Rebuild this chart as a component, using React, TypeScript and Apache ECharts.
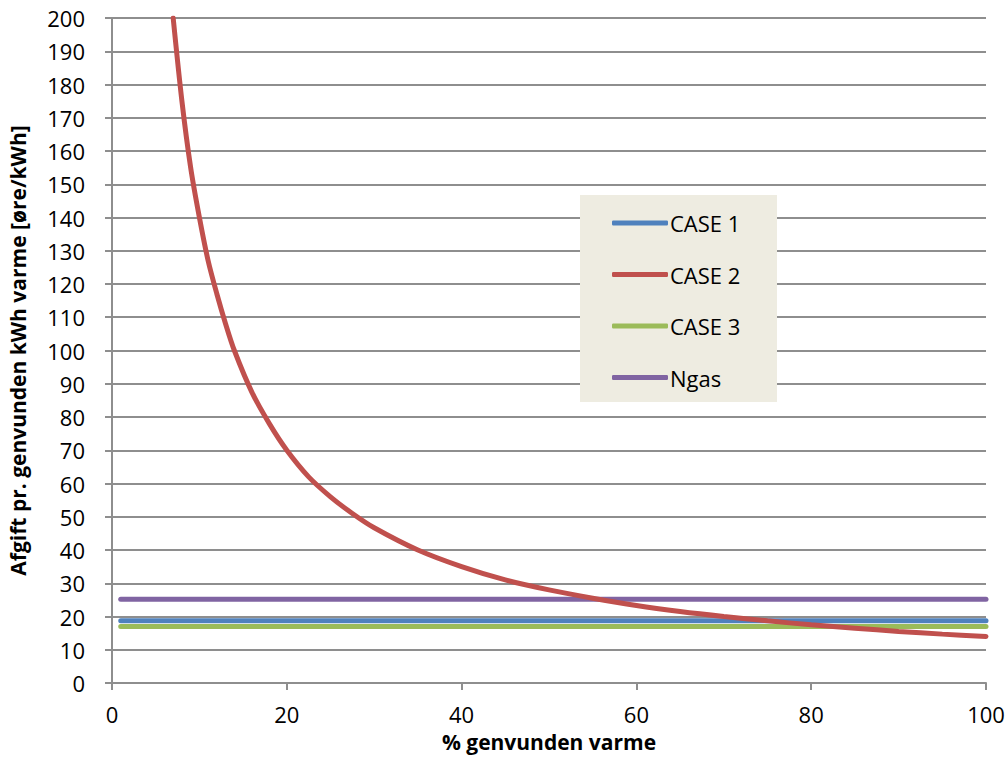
import React, { useEffect, useRef } from "react";
import * as echarts from "echarts";

const xTicks = [0, 20, 40, 60, 80, 100];
const flatX = [1, 100];
const case1Value = 18.7;
const case3Value = 17.0;
const ngasValue = 25.2;
const case2X = [7, 8, 9, 10, 11, 12, 13, 14, 16, 18, 20, 22.5, 25, 27.5, 30, 35, 40, 45, 50, 55, 60, 65, 70, 75, 80, 85, 90, 95, 100];
const case2Y = [200, 175, 155, 140, 127, 117, 108, 100, 87.5, 78, 70, 62, 56, 51, 46.7, 40, 35, 31, 28, 25.5, 23.3, 21.5, 20, 18.7, 17.5, 16.5, 15.5, 14.7, 14];
const seriesNames = ["CASE 1", "CASE 2", "CASE 3", "Ngas"];
const colors = ["#4F81BD", "#C0504D", "#9BBB59", "#8064A2"];

const FONT = "'Open Sans', 'Liberation Sans', Arial, sans-serif";
const GRID_GRAY = "#8E8E8E";

export default function App() {
  const ref = useRef<HTMLDivElement>(null);
  useEffect(() => {
    if (!ref.current) return;
    const chart = echarts.init(ref.current, undefined, { renderer: "svg" });
    const flat = (v: number) => flatX.map((x) => [x, v]);
    const lineStyle = (c: string) => ({ color: c, width: 5, cap: "round" as const });
    chart.setOption({
      animation: false,
      color: colors,
      textStyle: { fontFamily: FONT },
      grid: { left: 112, right: 22, top: 18, bottom: 75, containLabel: false, outerBoundsMode: "none" },
      graphic: [
        {
          type: "rect",
          shape: { x: 580, y: 195, width: 197, height: 207 },
          style: { fill: "#EEECE1" },
          z: 5,
        },
      ],
      legend: {
        orient: "vertical",
        left: 612,
        top: 212,
        z: 10,
        icon: "roundRect",
        itemWidth: 56,
        itemHeight: 5,
        itemGap: 29.5,
        padding: 0,
        textStyle: { fontSize: 22, color: "#000", fontFamily: FONT, padding: [0, 0, 0, -3] },
        data: seriesNames,
      },
      xAxis: {
        type: "value",
        min: 0,
        max: 100,
        interval: 20,
        name: "% genvunden varme",
        nameLocation: "middle",
        nameGap: 48,
        nameTextStyle: { fontSize: 21, fontWeight: "bold", color: "#000", fontFamily: FONT },
        axisLine: { show: true, lineStyle: { color: GRID_GRAY, width: 2 } },
        axisTick: { show: true, length: 7, lineStyle: { color: GRID_GRAY, width: 2 } },
        axisLabel: { fontSize: 22, color: "#000", margin: 20, fontFamily: FONT },
        splitLine: { show: false },
      },
      yAxis: {
        type: "value",
        min: 0,
        max: 200,
        interval: 10,
        name: "Afgift pr. genvunden kWh varme [øre/kWh]",
        nameLocation: "middle",
        nameGap: 84,
        nameTextStyle: { fontSize: 21, fontWeight: "bold", color: "#000", fontFamily: FONT },
        axisLine: { show: true, lineStyle: { color: GRID_GRAY, width: 2 } },
        axisTick: { show: true, length: 7, lineStyle: { color: GRID_GRAY, width: 2 } },
        axisLabel: { fontSize: 22, color: "#000", margin: 27, fontFamily: FONT },
        splitLine: { show: true, lineStyle: { color: GRID_GRAY, width: 2 } },
      },
      series: [
        { name: "CASE 1", type: "line", data: flat(case1Value), showSymbol: false, lineStyle: lineStyle(colors[0]), z: 2 },
        {
          name: "CASE 2",
          type: "line",
          data: case2X.map((x, i) => [x, case2Y[i]]),
          showSymbol: false,
          smooth: 0.3,
          clip: true,
          lineStyle: lineStyle(colors[1]),
          z: 4,
        },
        { name: "CASE 3", type: "line", data: flat(case3Value), showSymbol: false, lineStyle: lineStyle(colors[2]), z: 3 },
        { name: "Ngas", type: "line", data: flat(ngasValue), showSymbol: false, lineStyle: lineStyle(colors[3]), z: 2 },
      ],
    });
    return () => chart.dispose();
  }, []);
  return <div ref={ref} style={{ width: 1008, height: 758, position: "absolute", left: 0, top: 0 }} />;
}
